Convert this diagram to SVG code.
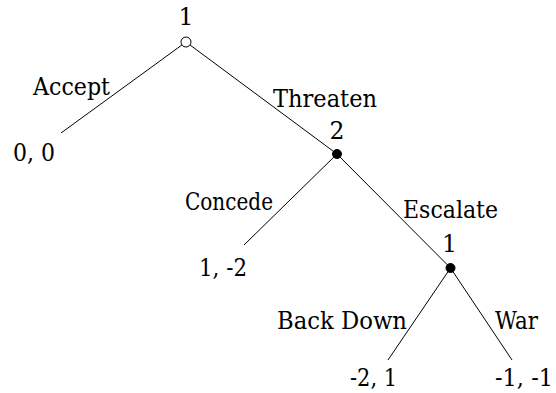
<svg xmlns="http://www.w3.org/2000/svg" width="556" height="393" viewBox="0 0 556 393">
<style>
  text { font-family: "DejaVu Serif", "Liberation Serif", serif; font-size: 23.5px; fill: #000; }
  .edge { stroke: #000; stroke-width: 1; fill: none; }
  .open { fill: #fff; stroke: #000; stroke-width: 1; }
  .solid { fill: #000; stroke: #000; stroke-width: 1; }
</style>
<rect width="556" height="393" fill="#fff"/>
<g id="connectors">
  <line class="edge" x1="186" y1="42" x2="61" y2="133"/>
  <line class="edge" x1="186" y1="42" x2="337" y2="154"/>
  <line class="edge" x1="337" y1="154" x2="244" y2="245"/>
  <line class="edge" x1="337" y1="154" x2="450.5" y2="268"/>
  <line class="edge" x1="450.5" y1="268" x2="388" y2="360"/>
  <line class="edge" x1="450.5" y1="268" x2="512" y2="360"/>
  <text x="33" y="95" textLength="77" lengthAdjust="spacingAndGlyphs">Accept</text>
  <text x="273" y="107" textLength="104" lengthAdjust="spacingAndGlyphs">Threaten</text>
  <text x="185" y="210" textLength="88" lengthAdjust="spacingAndGlyphs">Concede</text>
  <text x="403" y="218" textLength="95" lengthAdjust="spacingAndGlyphs">Escalate</text>
  <text x="277" y="329" textLength="130" lengthAdjust="spacingAndGlyphs">Back Down</text>
  <text x="495" y="329" textLength="43" lengthAdjust="spacingAndGlyphs">War</text>
</g>
<g id="node-root">
  <circle class="open" cx="186" cy="42" r="5"/>
  <text x="186" y="25" text-anchor="middle">1</text>
</g>
<g id="node-p2">
  <circle class="solid" cx="337" cy="154" r="4.5"/>
  <text x="337" y="139" text-anchor="middle">2</text>
</g>
<g id="node-p1b">
  <circle class="solid" cx="450.5" cy="268" r="4.5"/>
  <text x="449.5" y="252" text-anchor="middle">1</text>
</g>
<g id="leaf-accept">
  <text x="13" y="161" textLength="42" lengthAdjust="spacingAndGlyphs">0, 0</text>
</g>
<g id="leaf-concede">
  <text x="199" y="276" textLength="48" lengthAdjust="spacingAndGlyphs">1, -2</text>
</g>
<g id="leaf-backdown">
  <text x="350" y="386" textLength="47" lengthAdjust="spacingAndGlyphs">-2, 1</text>
</g>
<g id="leaf-war">
  <text x="495" y="386" textLength="58" lengthAdjust="spacingAndGlyphs">-1, -1</text>
</g>
</svg>
